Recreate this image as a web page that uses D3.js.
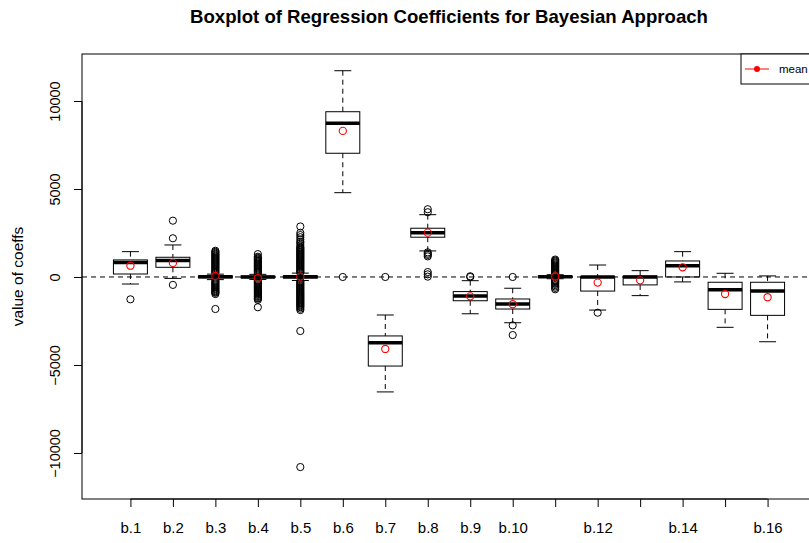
<!DOCTYPE html>
<html>
<head>
<meta charset="utf-8">
<script src="https://cdn.jsdelivr.net/npm/d3@7"></script>
<style>
  html, body { margin: 0; padding: 0; background: #fff; }
  svg { display: block; }
  text { font-family: "Liberation Sans", Arial, Helvetica, sans-serif; fill: #000; }
</style>
</head>
<body>
<svg id="chart" width="809" height="543"></svg>
<script>
// Posterior draws of the regression coefficients, summarised per coefficient.
const categories = ["b.1","b.2","b.3","b.4","b.5","b.6","b.7","b.8","b.9","b.10","b.11","b.12","b.13","b.14","b.15","b.16"];
// Labels that fit along the axis (the rest are dropped to avoid overlap).
const tickLabels = ["b.1","b.2","b.3","b.4","b.5","b.6","b.7","b.8","b.9","b.10","","b.12","","b.14","","b.16"];
const yTicks = [-10000, -5000, 0, 5000, 10000];

const whiskerLow  = [-400,  -80, -150, -140, -200, 4790, -6530, 1480, -2090, -2600, -100, -1880, -1060, -280, -2860, -3680];
const q1          = [ 170,  550,  -50,  -40,  -60, 7030, -5060, 2260, -1350, -1820,  -30,  -800,  -450,    0, -1840, -2180];
const medians     = [ 830,  930,   20,    0,   10, 8730, -3730, 2520, -1080, -1530,   20,     0,     0,  640,  -720,  -800];
const q3          = [ 970, 1120,   60,   50,   70, 9390, -3350, 2770,  -830, -1250,   60,    20,    50,  910,  -300,  -300];
const whiskerHigh = [1440, 1820,  160,  150,  220,11720, -2160, 3540,  -210,  -640,  130,   680,   360, 1440,   210,    60];
const means       = [ 640,  800,   60,  -60,   20, 8300, -4090, 2520, -1100, -1550,   30,  -320,  -190,  550,  -970, -1150];

const outliers = [
  [-1270],
  [3200, 2200, -450],
  [1490, 1430, 1380, 1320, 1270, 1210, 1160, 1100, 1050, 990, 940, 880, 830, 770, 720, 660, 610, 550, 500, 440, 390, 330, 280, 220,
   -210, -260, -320, -370, -430, -480, -540, -590, -650, -700, -760, -810, -860, -900, -970, -1820],
  [1300, 1150, 1090, 1040, 980, 930, 870, 820, 760, 710, 650, 600, 540, 490, 430, 380, 320, 270, 210,
   -200, -250, -310, -360, -420, -470, -530, -580, -640, -690, -750, -800, -860, -910, -970, -1020, -1080, -1130, -1190, -1230, -1300, -1720],
  [2870, 2510, 2380, 2260, 2130, 2010, 1930, 1820, 1720, 1660, 1610, 1550, 1500, 1440, 1390, 1330, 1280, 1220, 1170, 1110, 1060, 1000,
   950, 890, 840, 780, 730, 670, 620, 560, 510, 450, 400, 340, 290, 240,
   -240, -290, -350, -400, -460, -510, -570, -620, -680, -730, -790, -840, -900, -950, -1010, -1060, -1120, -1170, -1230, -1280,
   -1340, -1390, -1450, -1500, -1560, -1610, -1670, -1720, -1800, -1880, -3070, -10800],
  [0],
  [0],
  [3850, 3680, 1400, 1320, 1250, 1170, 280, 150, 20],
  [40, 0],
  [0, -2750, -3300],
  [990, 930, 880, 820, 770, 710, 660, 600, 550, 490, 440, 380, 330, 270, 220, 160,
   -160, -220, -270, -330, -390, -460, -540, -620, -700],
  [-2030],
  [],
  [],
  [],
  []
];

const svg = d3.select("#chart");
const plot = { left: 82, right: 816, top: 54, bottom: 499 };

// x runs over group positions 1..16, padded as in a base-graphics boxplot
const x = d3.scaleLinear().domain([-0.14, 17.14]).range([plot.left, plot.right]);
const y = d3.scaleLinear().domain([-12615, 12670]).range([plot.bottom, plot.top]);
const step = x(2) - x(1);
const boxW = step * 0.8;
const stapleW = boxW * 0.5;

// Title
svg.append("text")
  .attr("x", (plot.left + plot.right) / 2)
  .attr("y", 23)
  .attr("text-anchor", "middle")
  .style("font-size", "18.6px")
  .style("font-weight", "bold")
  .text("Boxplot of Regression Coefficients for Bayesian Approach");

// Y axis title
svg.append("text")
  .attr("transform", `translate(23,${(plot.top + plot.bottom) / 2}) rotate(-90)`)
  .attr("text-anchor", "middle")
  .style("font-size", "15.5px")
  .text("value of coeffs");

// Y axis
const yAxis = d3.axisLeft(y).tickValues(yTicks).tickSize(8).tickSizeOuter(0).tickFormat(d3.format("d"));
const gy = svg.append("g").attr("transform", `translate(${plot.left},0)`).call(yAxis);
gy.select(".domain").attr("d", `M-0,${y(yTicks[0])}V${y(yTicks[yTicks.length - 1])}`).attr("stroke", "#000");
gy.selectAll(".tick line").attr("stroke", "#000");
gy.selectAll(".tick text")
  .attr("x", null).attr("dy", null)
  .attr("transform", "translate(-22,0) rotate(-90)")
  .attr("text-anchor", "middle")
  .style("font-size", "14.5px")
  .style("font-family", "'Liberation Sans', Arial, sans-serif")
  .attr("fill", "#000");

// X axis
const positions = categories.map((c, i) => i + 1);
const xAxis = d3.axisBottom(x).tickValues(positions).tickSize(8).tickSizeOuter(0)
  .tickFormat((d, i) => tickLabels[i]);
const gx = svg.append("g").attr("transform", `translate(0,${plot.bottom})`).call(xAxis);
gx.select(".domain").attr("d", `M${x(1)},0H${x(16)}`).attr("stroke", "#000");
gx.selectAll(".tick line").attr("stroke", "#000");
gx.selectAll(".tick text")
  .attr("y", 34).attr("dy", null)
  .style("font-size", "15px")
  .style("font-family", "'Liberation Sans', Arial, sans-serif")
  .attr("fill", "#000");

// Plot frame
svg.append("rect")
  .attr("x", plot.left).attr("y", plot.top)
  .attr("width", plot.right - plot.left).attr("height", plot.bottom - plot.top)
  .attr("fill", "none").attr("stroke", "#000").attr("stroke-width", 1);

const boxes = svg.append("g");
categories.forEach((c, i) => {
  const cx = x(i + 1);
  const g = boxes.append("g");
  // whiskers
  g.append("line").attr("x1", cx).attr("x2", cx).attr("y1", y(whiskerHigh[i])).attr("y2", y(q3[i]))
    .attr("stroke", "#000").attr("stroke-dasharray", "5,4");
  g.append("line").attr("x1", cx).attr("x2", cx).attr("y1", y(q1[i])).attr("y2", y(whiskerLow[i]))
    .attr("stroke", "#000").attr("stroke-dasharray", "5,4");
  // staples
  [whiskerHigh[i], whiskerLow[i]].forEach(v => {
    g.append("line").attr("x1", cx - stapleW / 2).attr("x2", cx + stapleW / 2)
      .attr("y1", y(v)).attr("y2", y(v)).attr("stroke", "#000");
  });
  // box
  g.append("rect").attr("x", cx - boxW / 2).attr("width", boxW)
    .attr("y", y(q3[i])).attr("height", Math.max(0, y(q1[i]) - y(q3[i])))
    .attr("fill", "none").attr("stroke", "#000");
  // median
  g.append("line").attr("x1", cx - boxW / 2).attr("x2", cx + boxW / 2)
    .attr("y1", y(medians[i])).attr("y2", y(medians[i]))
    .attr("stroke", "#000").attr("stroke-width", 3.5);
  // outliers
  g.selectAll("circle.out").data(outliers[i]).join("circle")
    .attr("class", "out")
    .attr("cx", cx).attr("cy", d => y(d)).attr("r", 3.6)
    .attr("fill", "none").attr("stroke", "#000").attr("stroke-width", 1);
});

// reference line at zero
svg.append("line")
  .attr("x1", plot.left).attr("x2", plot.right)
  .attr("y1", y(0)).attr("y2", y(0))
  .attr("stroke", "#000").attr("stroke-dasharray", "5,4");

// posterior means
svg.append("g").selectAll("circle").data(means).join("circle")
  .attr("cx", (d, i) => x(i + 1)).attr("cy", d => y(d)).attr("r", 3.6)
  .attr("fill", "none").attr("stroke", "#ff0000").attr("stroke-width", 1.1);

// Legend
const lg = svg.append("g");
lg.append("rect").attr("x", 741).attr("y", plot.top).attr("width", plot.right - 741).attr("height", 30)
  .attr("fill", "#fff").attr("stroke", "#000");
lg.append("line").attr("x1", 745).attr("x2", 769).attr("y1", 69).attr("y2", 69)
  .attr("stroke", "#ff0000").attr("stroke-width", 1);
lg.append("circle").attr("cx", 757).attr("cy", 69).attr("r", 3).attr("fill", "#ff0000");
lg.append("text").attr("x", 779).attr("y", 73).style("font-size", "11.5px").text("mean");
</script>
</body>
</html>
